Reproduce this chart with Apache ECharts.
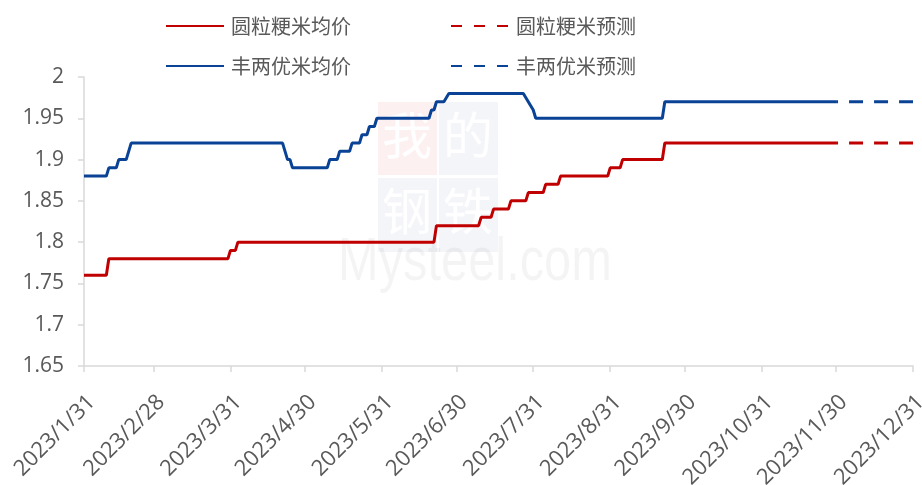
<!DOCTYPE html>
<html>
<head>
<meta charset="utf-8">
<script src="https://cdn.jsdelivr.net/npm/echarts@6/dist/echarts.min.js"></script>
<style>html,body{margin:0;padding:0;background:#fff;}#c{width:922px;height:485px;}</style>
</head>
<body>
<div id="c"></div>
<script>
// ---- data ----
const seriesNames = ['圆粒粳米均价', '丰两优米均价', '圆粒粳米预测', '丰两优米预测'];

const riceDates = ['2023-01-31','2023-02-09','2023-02-10','2023-03-30','2023-03-31','2023-04-02','2023-04-03',
  '2023-06-21','2023-06-22','2023-07-09','2023-07-10','2023-07-14','2023-07-15','2023-07-21','2023-07-22',
  '2023-07-28','2023-07-29','2023-08-04','2023-08-05','2023-08-10','2023-08-11','2023-08-30','2023-08-31',
  '2023-09-04','2023-09-05','2023-09-21','2023-09-22','2023-11-30'];
const riceValues = [1.76,1.76,1.78,1.78,1.79,1.79,1.80,
  1.80,1.82,1.82,1.83,1.83,1.84,1.84,1.85,
  1.85,1.86,1.86,1.87,1.87,1.88,1.88,1.89,
  1.89,1.90,1.90,1.92,1.92];

const hybridDates = ['2023-01-31','2023-02-09','2023-02-10','2023-02-13','2023-02-14','2023-02-17','2023-02-18','2023-02-19',
  '2023-04-21','2023-04-22','2023-04-23','2023-04-24','2023-04-25','2023-05-09','2023-05-10','2023-05-13','2023-05-14',
  '2023-05-18','2023-05-19','2023-05-22','2023-05-23','2023-05-25','2023-05-26','2023-05-28','2023-05-29',
  '2023-06-19','2023-06-20','2023-06-21','2023-06-22','2023-06-25','2023-06-27','2023-07-27','2023-07-29',
  '2023-07-31','2023-08-01','2023-09-21','2023-09-22','2023-11-30'];
const hybridValues = [1.88,1.88,1.89,1.89,1.90,1.90,1.91,1.92,
  1.92,1.91,1.90,1.90,1.89,1.89,1.90,1.90,1.91,
  1.91,1.92,1.92,1.93,1.93,1.94,1.94,1.95,
  1.95,1.96,1.96,1.97,1.97,1.98,1.98,1.97,
  1.96,1.95,1.95,1.97,1.97];

const forecastDates = ['2023-11-30','2023-12-31'];
const riceForecast = [1.92, 1.92];
const hybridForecast = [1.97, 1.97];

const tickDates = ['2023-01-31','2023-02-28','2023-03-31','2023-04-30','2023-05-31','2023-06-30',
  '2023-07-31','2023-08-31','2023-09-30','2023-10-31','2023-11-30','2023-12-31'];

// ---- helpers ----
function ts(s) { const p = s.split('-').map(Number); return new Date(p[0], p[1] - 1, p[2]).getTime(); }
function pairs(dates, vals) { return dates.map((d, i) => [ts(d), vals[i]]); }

const RED = '#C00000';
const BLUE = '#0A4396';
const TEXT = '#595959';
const FONT = "'Open Sans', 'Noto Sans CJK SC', sans-serif";
const CJK = "'Noto Sans CJK SC', sans-serif";
const tickTs = tickDates.map(ts);

function legendAt(name, left, top, dashed) {
  const lg = {
    data: [name], left: left, top: top, padding: 0, itemWidth: 58, itemHeight: 14, itemGap: 0,
    itemStyle: { color: 'rgba(0,0,0,0)', borderWidth: 0, opacity: 0 },
    textStyle: { fontSize: 20, color: TEXT, fontFamily: CJK, padding: [0, 0, 0, 2] }
  };
  if (dashed) lg.lineStyle = { type: [11, 12], dashOffset: 0 };
  return lg;
}

const wmChar = (ch, left, top) => ({ type: 'text', left: left, top: top, silent: true, z: -1,
  style: { text: ch, fontSize: 50, fontFamily: "'Noto Sans CJK SC',serif", fill: 'rgba(255,255,255,0.95)' } });

const chart = echarts.init(document.getElementById('c'), null, { renderer: 'canvas' });
chart.setOption({
  animation: false,
  backgroundColor: '#fff',
  graphic: [
    { type: 'text', x: 338, y: 233, scaleX: 0.8, silent: true, z: -1,
      style: { text: 'Mysteel.com', fontSize: 61, fontFamily: "'Liberation Sans', sans-serif", fill: 'rgba(0,0,0,0.045)', verticalAlign: 'top' } },
    { type: 'rect', x: 378, y: 102, silent: true, z: -1, shape: { width: 59, height: 73 }, style: { fill: 'rgba(235,90,90,0.09)' } },
    { type: 'rect', x: 439, y: 102, silent: true, z: -1, shape: { width: 59, height: 73 }, style: { fill: 'rgba(60,80,150,0.06)' } },
    { type: 'rect', x: 378, y: 178, silent: true, z: -1, shape: { width: 59, height: 74 }, style: { fill: 'rgba(60,80,150,0.06)' } },
    { type: 'rect', x: 439, y: 178, silent: true, z: -1, shape: { width: 59, height: 74 }, style: { fill: 'rgba(60,80,150,0.06)' } },
    wmChar('我', 382, 110), wmChar('的', 443, 110), wmChar('钢', 382, 186), wmChar('铁', 443, 186)
  ],
  legend: [
    legendAt(seriesNames[0], 165, 16, false),
    legendAt(seriesNames[2], 450, 16, true),
    legendAt(seriesNames[1], 165, 56, false),
    legendAt(seriesNames[3], 450, 56, true)
  ],
  grid: { left: 84, right: 9, top: 77, bottom: 119, containLabel: false, outerBoundsMode: 'none' },
  xAxis: {
    type: 'value',
    min: tickTs[0],
    max: tickTs[tickTs.length - 1],
    axisLine: { show: true, lineStyle: { color: '#D9D9D9', width: 1.5 } },
    axisTick: { show: true, customValues: tickTs, length: 6, lineStyle: { color: '#D9D9D9', width: 1.5 } },
    splitLine: { show: false },
    axisLabel: {
      customValues: tickTs,
      rotate: 45,
      margin: 25,
      verticalAlign: 'top',
      fontSize: 22,
      color: TEXT,
      fontFamily: FONT,
      hideOverlap: false,
      showMinLabel: true,
      showMaxLabel: true,
      formatter: function (v) { const d = new Date(v); return d.getFullYear() + '/' + (d.getMonth() + 1) + '/' + d.getDate(); }
    }
  },
  yAxis: {
    type: 'value',
    min: 1.65, max: 2, interval: 0.05,
    axisLine: { show: true, lineStyle: { color: '#D9D9D9', width: 1.5 } },
    axisTick: { show: true, length: 6, lineStyle: { color: '#D9D9D9', width: 1.5 } },
    splitLine: { show: false },
    axisLabel: { fontSize: 21, color: TEXT, fontFamily: FONT, margin: 20,
      formatter: function (v) { return String(Math.round(v * 100) / 100); } }
  },
  series: [
    { name: seriesNames[0], type: 'line', data: pairs(riceDates, riceValues), showSymbol: false, symbol: 'none',
      lineStyle: { color: RED, width: 3 }, itemStyle: { color: RED }, z: 3 },
    { name: seriesNames[1], type: 'line', data: pairs(hybridDates, hybridValues), showSymbol: false, symbol: 'none',
      lineStyle: { color: BLUE, width: 3 }, itemStyle: { color: BLUE }, z: 3 },
    { name: seriesNames[2], type: 'line', data: pairs(forecastDates, riceForecast), showSymbol: false, symbol: 'none',
      lineStyle: { color: RED, width: 3, type: [14, 11], dashOffset: -13 }, itemStyle: { color: RED }, z: 3 },
    { name: seriesNames[3], type: 'line', data: pairs(forecastDates, hybridForecast), showSymbol: false, symbol: 'none',
      lineStyle: { color: BLUE, width: 3, type: [14, 11], dashOffset: -13 }, itemStyle: { color: BLUE }, z: 3 }
  ]
});
</script>
</body>
</html>
